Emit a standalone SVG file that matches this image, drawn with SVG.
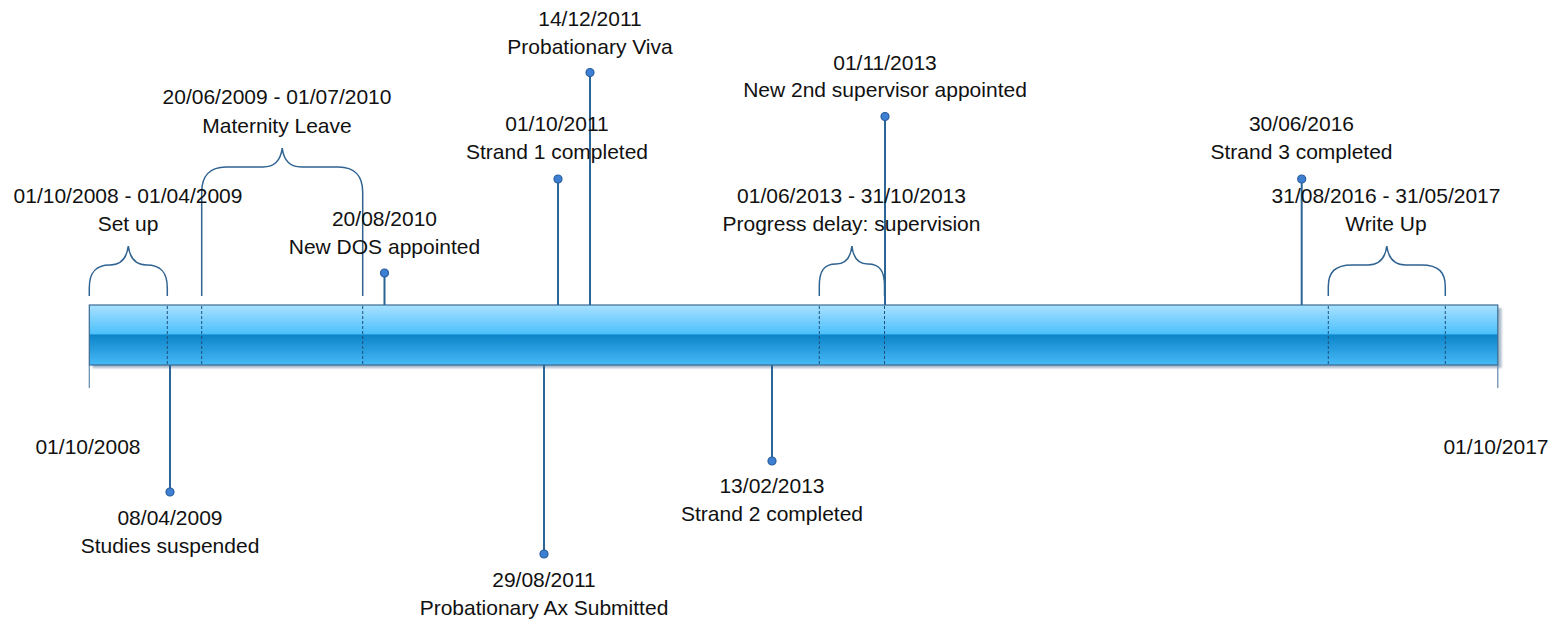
<svg xmlns="http://www.w3.org/2000/svg" width="1564" height="623" viewBox="0 0 1564 623">
  <defs>
    <linearGradient id="barFill" x1="0" y1="0" x2="0" y2="1">
      <stop offset="0" stop-color="#a9e1ff"/>
      <stop offset="0.48" stop-color="#4cc0fb"/>
      <stop offset="0.5" stop-color="#0d84c9"/>
      <stop offset="1" stop-color="#47baf6"/>
    </linearGradient>
    <filter id="soft" x="-1%" y="-20%" width="102%" height="140%">
      <feGaussianBlur stdDeviation="0.8"/>
    </filter>
    <style>
      .lbl { font-family: "Liberation Sans", Arial, sans-serif; font-size: 21px; fill: #111; text-anchor: middle; }
      .brace { fill: none; stroke: #2f6391; stroke-width: 1.5; }
      .stem { stroke: #2b6596; stroke-width: 2; fill: none; }
      .dot { fill: #3d7fd2; stroke: #2a5d9c; stroke-width: 1.2; }
      .split { stroke: #1f4e79; stroke-width: 1; stroke-dasharray: 3 2; fill: none; }
      .tick { stroke: #6288ab; stroke-width: 1.2; fill: none; }
    </style>
  </defs>

  <!-- time bar -->
  <g id="timeline-bar">
    <rect x="92.5" y="308" width="1409" height="60" fill="#6f8ca6" opacity="0.6" filter="url(#soft)"/>
    <rect x="89.3" y="305" width="1408.5" height="60" fill="url(#barFill)" stroke="#3a6a92" stroke-width="1.2"/>
    <line class="tick" x1="89.3" y1="365" x2="89.3" y2="388"/>
    <line class="tick" x1="1497.8" y1="365" x2="1497.8" y2="388"/>
    <line class="split" x1="167.3" y1="306" x2="167.3" y2="364"/>
    <line class="split" x1="201.7" y1="306" x2="201.7" y2="364"/>
    <line class="split" x1="362.7" y1="306" x2="362.7" y2="364"/>
    <line class="split" x1="819.3" y1="306" x2="819.3" y2="364"/>
    <line class="split" x1="884.5" y1="306" x2="884.5" y2="364"/>
    <line class="split" x1="1328.3" y1="306" x2="1328.3" y2="364"/>
    <line class="split" x1="1445.3" y1="306" x2="1445.3" y2="364"/>
  </g>

  <!-- stems and braces -->
  <g id="connectors">
    <path class="brace" d="M89.3,296 L89.3,288 C89.3,273 95,265 110,265 C119,265 126.5,260 128.3,246 C130.1,260 137.6,265 146.6,265 C161.6,265 167.3,273 167.3,288 L167.3,296"/>
    <path class="brace" d="M201.7,296 L201.7,192 C201.7,176 210,167 226,167 L263,167 C273,167 280.5,162 282.2,148 C283.9,162 291.4,167 301.4,167 L338.4,167 C354.4,167 362.7,176 362.7,192 L362.7,296"/>
    <path class="brace" d="M819.3,296 L819.3,286 C819.3,271 824,264 836,264 C845,264 850.5,259 851.9,246 C853.3,259 858.8,264 867.8,264 C879.8,264 884.5,271 884.5,286 L884.5,296"/>
    <path class="brace" d="M1328.3,296 L1328.3,287 C1328.3,272 1335,265 1352,265 L1368,265 C1377,265 1385,260 1386.8,246 C1388.6,260 1396.6,265 1405.6,265 L1421.6,265 C1438.6,265 1445.3,272 1445.3,287 L1445.3,296"/>

    <line class="stem" x1="384.5" y1="273" x2="384.5" y2="305"/>
    <line class="stem" x1="558" y1="179" x2="558" y2="305"/>
    <line class="stem" x1="590" y1="72.5" x2="590" y2="305"/>
    <line class="stem" x1="885" y1="116.5" x2="885" y2="305"/>
    <line class="stem" x1="1301.7" y1="179" x2="1301.7" y2="305"/>

    <line class="stem" x1="170" y1="365" x2="170" y2="492"/>
    <line class="stem" x1="544" y1="365" x2="544" y2="554"/>
    <line class="stem" x1="772" y1="365" x2="772" y2="461"/>
  </g>

  <g id="ev-setup">
    <text class="lbl" x="128" y="203">01/10/2008 - 01/04/2009</text>
    <text class="lbl" x="128" y="231">Set up</text>
  </g>

  <g id="ev-maternity">
    <text class="lbl" x="277" y="104">20/06/2009 - 01/07/2010</text>
    <text class="lbl" x="277" y="133">Maternity Leave</text>
  </g>

  <g id="ev-new-dos">
    <circle class="dot" cx="384.5" cy="273" r="4"/>
    <text class="lbl" x="384.5" y="226">20/08/2010</text>
    <text class="lbl" x="384.5" y="254">New DOS appointed</text>
  </g>

  <g id="ev-strand1">
    <circle class="dot" cx="558" cy="179" r="4"/>
    <text class="lbl" x="557" y="131">01/10/2011</text>
    <text class="lbl" x="557" y="159">Strand 1 completed</text>
  </g>

  <g id="ev-viva">
    <circle class="dot" cx="590" cy="72.5" r="4"/>
    <text class="lbl" x="590" y="26">14/12/2011</text>
    <text class="lbl" x="590" y="54">Probationary Viva</text>
  </g>

  <g id="ev-progress-delay">
    <text class="lbl" x="851.5" y="203">01/06/2013 - 31/10/2013</text>
    <text class="lbl" x="851.5" y="231">Progress delay: supervision</text>
  </g>

  <g id="ev-new-2nd-supervisor">
    <circle class="dot" cx="885" cy="116.5" r="4"/>
    <text class="lbl" x="885" y="69.5">01/11/2013</text>
    <text class="lbl" x="885" y="97">New 2nd supervisor appointed</text>
  </g>

  <g id="ev-strand3">
    <circle class="dot" cx="1301.7" cy="179" r="4"/>
    <text class="lbl" x="1301.5" y="131">30/06/2016</text>
    <text class="lbl" x="1301.5" y="159">Strand 3 completed</text>
  </g>

  <g id="ev-write-up">
    <text class="lbl" x="1386" y="203">31/08/2016 - 31/05/2017</text>
    <text class="lbl" x="1386" y="231">Write Up</text>
  </g>

  <g id="ev-start">
    <text class="lbl" x="88" y="454">01/10/2008</text>
  </g>

  <g id="ev-end">
    <text class="lbl" x="1496" y="454">01/10/2017</text>
  </g>

  <g id="ev-suspended">
    <circle class="dot" cx="170" cy="492" r="4"/>
    <text class="lbl" x="170" y="525">08/04/2009</text>
    <text class="lbl" x="170" y="553">Studies suspended</text>
  </g>

  <g id="ev-ax-submitted">
    <circle class="dot" cx="544" cy="554" r="4"/>
    <text class="lbl" x="544" y="587">29/08/2011</text>
    <text class="lbl" x="544" y="615">Probationary Ax Submitted</text>
  </g>

  <g id="ev-strand2">
    <circle class="dot" cx="772" cy="461" r="4"/>
    <text class="lbl" x="772" y="493">13/02/2013</text>
    <text class="lbl" x="772" y="521">Strand 2 completed</text>
  </g>
</svg>
